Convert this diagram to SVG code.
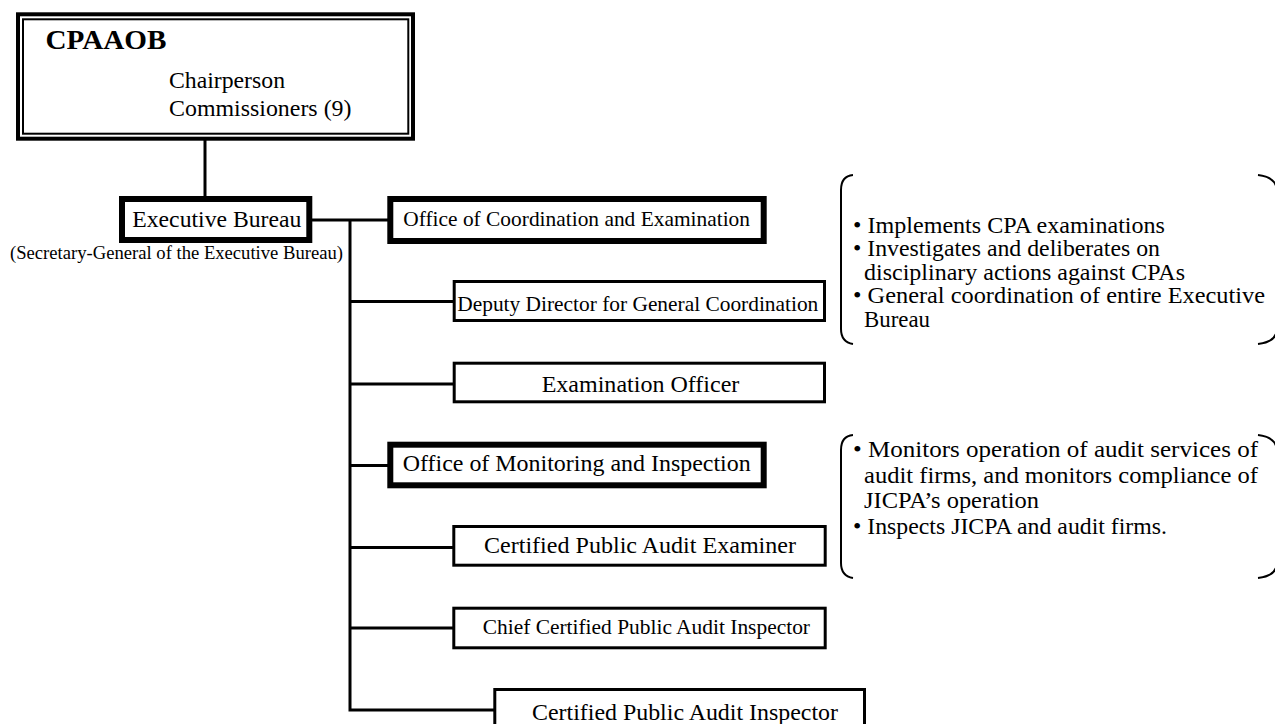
<svg xmlns="http://www.w3.org/2000/svg" width="1275" height="724" viewBox="0 0 1275 724" font-family="'Liberation Serif', 'Times New Roman', serif">
<style>
  text { fill: #000; }
  .n { font-size: 22.5px; }
  .thick { fill: #fff; stroke: #000; stroke-width: 6; }
  .thin { fill: #fff; stroke: #000; stroke-width: 3; }
  .conn { fill: none; stroke: #000; stroke-width: 3; }
  .br { fill: none; stroke: #000; stroke-width: 2; }
</style>
<rect width="1275" height="724" fill="#fff"/>

<g id="connectors">
  <line class="conn" x1="205" y1="140" x2="205" y2="197"/>
  <line class="conn" x1="311" y1="220" x2="389" y2="220"/>
  <polyline class="conn" points="350,220 350,710 494,710"/>
  <line class="conn" x1="350" y1="301.5" x2="454" y2="301.5"/>
  <line class="conn" x1="350" y1="384" x2="454" y2="384"/>
  <line class="conn" x1="350" y1="465.5" x2="389" y2="465.5"/>
  <line class="conn" x1="350" y1="547.5" x2="454" y2="547.5"/>
  <line class="conn" x1="350" y1="628" x2="454" y2="628"/>
</g>

<g id="cpaaob">
  <rect x="18" y="14.3" width="395" height="124.4" fill="#fff" stroke="#000" stroke-width="4"/>
  <rect x="23" y="19.3" width="385.3" height="114.4" fill="none" stroke="#000" stroke-width="2"/>
  <text x="45.5" y="48.5" font-size="28" font-weight="bold" textLength="121" lengthAdjust="spacingAndGlyphs">CPAAOB</text>
  <text x="169" y="87.5" font-size="24" textLength="116" lengthAdjust="spacingAndGlyphs">Chairperson</text>
  <text x="169" y="115.5" font-size="24" textLength="182.5" lengthAdjust="spacingAndGlyphs">Commissioners (9)</text>
</g>

<g id="executive-bureau">
  <rect class="thick" x="122" y="199" width="187.3" height="41"/>
  <text x="132.3" y="227" font-size="23.5" textLength="169" lengthAdjust="spacingAndGlyphs">Executive Bureau</text>
  <text x="10" y="259" font-size="18.7" textLength="333" lengthAdjust="spacingAndGlyphs">(Secretary-General of the Executive Bureau)</text>
</g>

<g id="office-coordination">
  <rect class="thick" x="390.3" y="199" width="373.4" height="42"/>
  <text x="403.3" y="226" font-size="21.4" textLength="346.7" lengthAdjust="spacingAndGlyphs">Office of Coordination and Examination</text>
</g>

<g id="deputy-director">
  <rect class="thin" x="454.2" y="281.5" width="370.3" height="39"/>
  <text x="457.3" y="310.7" font-size="21.4" textLength="361" lengthAdjust="spacingAndGlyphs">Deputy Director for General Coordination</text>
</g>

<g id="examination-officer">
  <rect class="thin" x="454.2" y="363.2" width="370.3" height="38.6"/>
  <text x="541.7" y="391.5" font-size="24" textLength="197.6" lengthAdjust="spacingAndGlyphs">Examination Officer</text>
</g>

<g id="office-monitoring">
  <rect class="thick" x="390.3" y="444.7" width="373.4" height="40.6"/>
  <text x="402.7" y="470.5" font-size="24" textLength="348" lengthAdjust="spacingAndGlyphs">Office of Monitoring and Inspection</text>
</g>

<g id="cpa-examiner">
  <rect class="thin" x="453.8" y="526.5" width="371.4" height="38.7"/>
  <text x="484" y="553" font-size="24" textLength="312" lengthAdjust="spacingAndGlyphs">Certified Public Audit Examiner</text>
</g>

<g id="chief-inspector">
  <rect class="thin" x="453.8" y="608.2" width="371.4" height="39.6"/>
  <text x="482.7" y="634" font-size="21.5" textLength="327.3" lengthAdjust="spacingAndGlyphs">Chief Certified Public Audit Inspector</text>
</g>

<g id="cpa-inspector">
  <rect class="thin" x="494.8" y="689.5" width="369.7" height="50"/>
  <text x="532" y="720" font-size="24" textLength="306" lengthAdjust="spacingAndGlyphs">Certified Public Audit Inspector</text>
</g>

<g id="note-coordination">
  <path class="br" d="M853,175 Q841,176 841,190 L841,329 Q841,342 853,344"/>
  <path class="br" d="M1258,175 Q1277,177 1277,192 L1277,328 Q1277,342 1258,344"/>
  <text class="n" x="853" y="232.5" textLength="312" lengthAdjust="spacingAndGlyphs">• Implements CPA examinations</text>
  <text class="n" x="853" y="256" textLength="307" lengthAdjust="spacingAndGlyphs">• Investigates and deliberates on</text>
  <text class="n" x="864" y="279.5" textLength="321" lengthAdjust="spacingAndGlyphs">disciplinary actions against CPAs</text>
  <text class="n" x="853" y="303" textLength="412" lengthAdjust="spacingAndGlyphs">• General coordination of entire Executive</text>
  <text class="n" x="864" y="326.5" textLength="66" lengthAdjust="spacingAndGlyphs">Bureau</text>
</g>

<g id="note-monitoring">
  <path class="br" d="M853,435 Q841,436 841,450 L841,563 Q841,576 853,578"/>
  <path class="br" d="M1258,435 Q1277,437 1277,452 L1277,562 Q1277,576 1258,578"/>
  <text class="n" x="853" y="457" textLength="405" lengthAdjust="spacingAndGlyphs">• Monitors operation of audit services of</text>
  <text class="n" x="864" y="482.5" textLength="394" lengthAdjust="spacingAndGlyphs">audit firms, and monitors compliance of</text>
  <text class="n" x="864" y="508" textLength="175" lengthAdjust="spacingAndGlyphs">JICPA’s operation</text>
  <text class="n" x="853" y="533.5" textLength="314" lengthAdjust="spacingAndGlyphs">• Inspects JICPA and audit firms.</text>
</g>
</svg>
